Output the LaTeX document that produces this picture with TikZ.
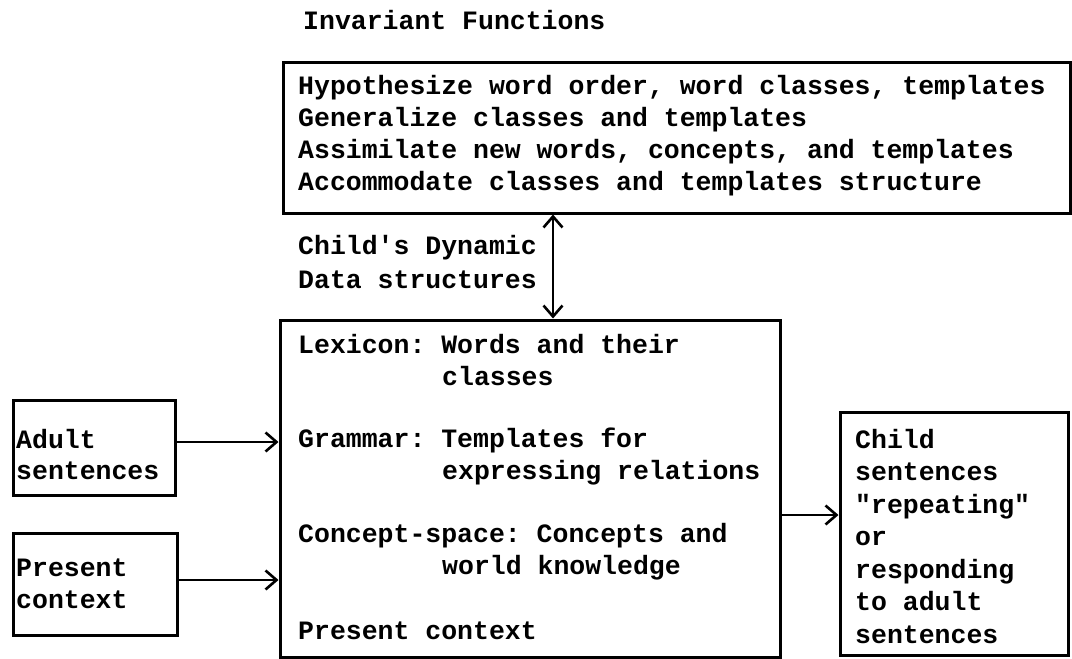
\documentclass[tikz,border=0pt]{standalone}
\usepackage{fontspec}
\setmonofont{Liberation Mono}
\usetikzlibrary{arrows.meta}
\tikzset{
  frame/.style={draw, line width=3pt, inner sep=0pt},
  txt/.style={anchor=base west, inner sep=0pt, font=\ttfamily\bfseries\fontsize{26.5}{32}\selectfont},
  tip/.tip={Straight Barb[length=11pt,width=19pt,line width=2.6pt]},
  arr/.style={line width=2.8pt, -tip},
  arrr/.style={line width=2.8pt, tip-tip}
}
\begin{document}
\begin{tikzpicture}[x=1pt,y=-1pt]
\useasboundingbox (0,0) rectangle (1072,659);
% boxes
\node[frame, minimum width=787pt, minimum height=151pt] (top) at (676.5,137.5) {};
\node[frame, minimum width=500pt, minimum height=337pt] (main) at (530,488.5) {};
\node[frame, minimum width=162pt, minimum height=95pt] (adult) at (94,447.5) {};
\node[frame, minimum width=164pt, minimum height=102pt] (pres) at (95,584) {};
\node[frame, minimum width=228pt, minimum height=243pt] (child) at (954,533.5) {};
% title
\node[txt] (title) at (303,29) {Invariant Functions};
% top box text
\node[txt] (t1) at (298,94) {Hypothesize word order, word classes, templates};
\node[txt] (t2) at (298,126) {Generalize classes and templates};
\node[txt] (t3) at (298,158.5) {Assimilate new words, concepts, and templates};
\node[txt] (t4) at (298,190.5) {Accommodate classes and templates structure};
% label
\node[txt] (d1) at (298,254) {Child's Dynamic};
\node[txt] (d2) at (298,288) {Data structures};
% main box text
\node[txt] (m1) at (298,353) {Lexicon: Words and their};
\node[txt] (m2) at (442,385) {classes};
\node[txt] (m3) at (298,447) {Grammar: Templates for};
\node[txt] (m4) at (442,479) {expressing relations};
\node[txt] (m5) at (298,542) {Concept-space: Concepts and};
\node[txt] (m6) at (442,574) {world knowledge};
\node[txt] (m7) at (298,639) {Present context};
% left boxes text
\node[txt] (a1) at (16,448) {Adult};
\node[txt] (a2) at (16,479) {sentences};
\node[txt] (p1) at (16,576) {Present};
\node[txt] (p2) at (16,608) {context};
% right box text
\node[txt] (c1) at (855,448) {Child};
\node[txt] (c2) at (855,480.5) {sentences};
\node[txt] (c3) at (855,513) {"repeating"};
\node[txt] (c4) at (855,545.5) {or};
\node[txt] (c5) at (855,578) {responding};
\node[txt] (c6) at (855,610.5) {to adult};
\node[txt] (c7) at (855,643) {sentences};
% connectors
\coordinate (av) at ([yshift=5.5pt]adult.east);
\draw[arr] (av) -- (av -| main.west);
\coordinate (pv) at ([yshift=4pt]pres.east);
\draw[arr] (pv) -- (pv -| main.west);
\coordinate (mv) at ([yshift=-26.5pt]main.east);
\draw[arr] (mv) -- (mv -| child.west);
\coordinate (vv) at ([xshift=23pt]main.north);
\draw[arrr] (vv |- top.south) -- (vv);
\end{tikzpicture}
\end{document}
